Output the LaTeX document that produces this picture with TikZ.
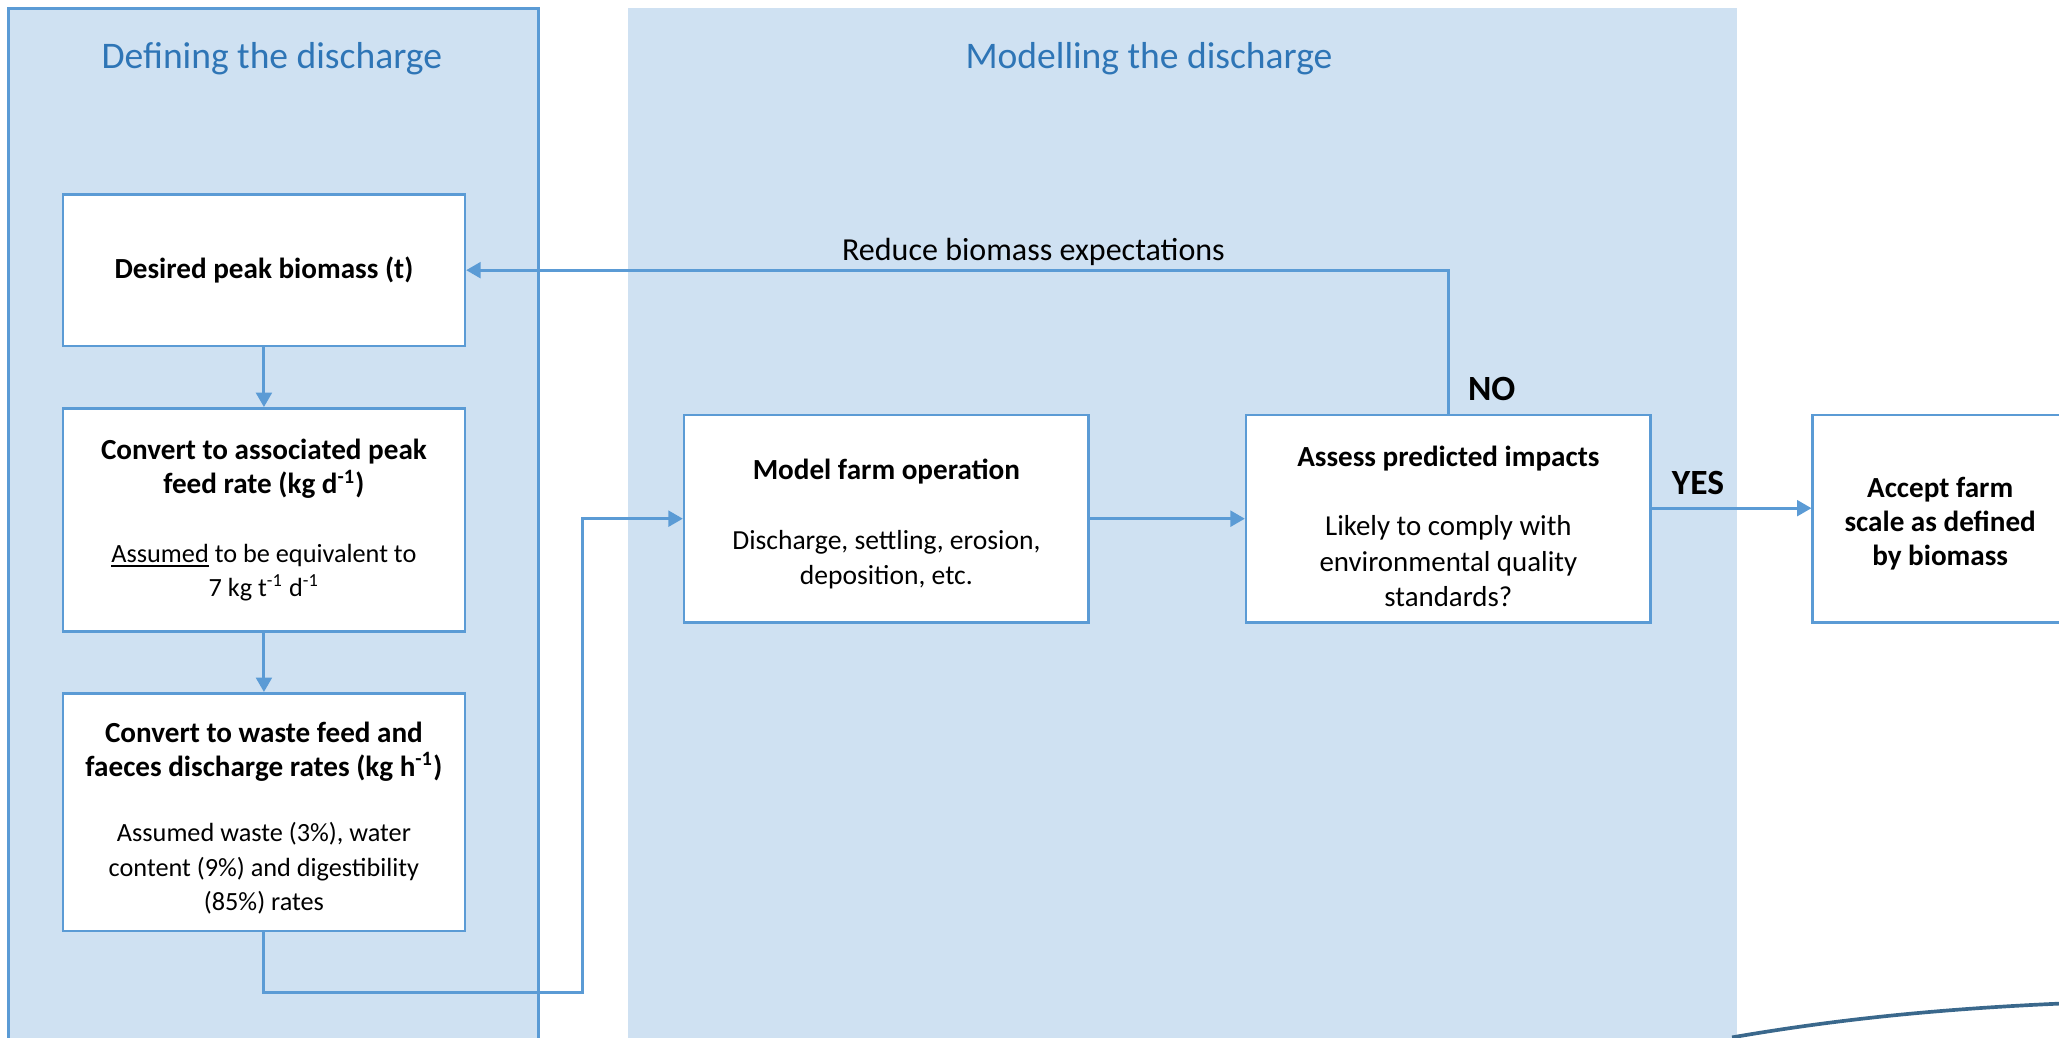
\documentclass[tikz,border=0pt]{standalone}
\usepackage{fontspec}
\setmainfont{Carlito}
\usetikzlibrary{arrows.meta}
\definecolor{panelblue}{RGB}{207,225,242}
\definecolor{lineblue}{RGB}{91,155,213}
\definecolor{titleblue}{RGB}{46,117,182}
\definecolor{swoosh}{RGB}{58,104,140}
\newcommand{\hd}[1]{{\fontsize{11.1}{13.2}\selectfont\bfseries #1}}
\begin{document}
\begin{tikzpicture}[x=0.5pt,y=-0.5pt]
            \tikzstyle{box}=[rectangle,draw=lineblue,fill=white,line width=1pt,inner sep=2pt,align=center,font=\fontsize{10}{13}\selectfont]
            \tikzstyle{panel title}=[text=titleblue,font=\fontsize{14.3}{17}\selectfont]
            \tikzstyle{flow}=[draw=lineblue,line width=1.1pt,-{Triangle[width=6pt,length=5.5pt]}]
            \tikzstyle{answer}=[font=\fontsize{13.5}{16}\selectfont\bfseries]

            \useasboundingbox (0,0) rectangle (1568,790);
            \clip (0,0) rectangle (1568,790);

            % panels
            \filldraw[fill=panelblue,draw=lineblue,line width=1pt] (6.4,6.3) rectangle (410,830);
            \fill[panelblue] (478,6) rectangle (1323,830);
            \node(deftitle)[panel title] at (207,45) {Defining the discharge};
            \node(modtitle)[panel title] at (875,45) {Modelling the discharge};

            % boxes
            \node(desired)[box,minimum width=153pt,minimum height=57.75pt] at (201,205.75)
            {\hd{Desired peak biomass (t)}};
            \node(feed)[box,minimum width=153pt,minimum height=85pt] at (201,396)
            {\hd{Convert to associated peak}\\
            \hd{feed rate (kg d\textsuperscript{-1})}\\[13pt]
            \underline{Assumed} to be equivalent to\\
            7 kg t\textsuperscript{-1} d\textsuperscript{-1}};
            \node(waste)[box,minimum width=153pt,minimum height=90.5pt] at (201,618.5)
            {\rule{0pt}{12pt}\hd{Convert to waste feed and}\\
            \hd{faeces discharge rates (kg h\textsuperscript{-1})}\\[12pt]
            Assumed waste (3\%), water\\
            content (9\%) and digestibility\\
            (85\%) rates};
            \node(model)[box,minimum width=154pt,minimum height=79pt,font=\fontsize{10.5}{13.3}\selectfont] at (675,395)
            {\rule{0pt}{12pt}\hd{Model farm operation}\\[13.5pt]
            Discharge, settling, erosion,\\
            deposition, etc.};
            \node(assess)[box,minimum width=154pt,minimum height=79pt,font=\fontsize{11}{13.5}\selectfont] at (1103,395)
            {\rule{0pt}{13.5pt}\hd{Assess predicted impacts}\\[13pt]
            Likely to comply with\\
            environmental quality\\
            standards?};
            \node(accept)[box,minimum width=97pt,minimum height=79pt] at (1477.5,395)
            {\rule{0pt}{11.5pt}\hd{Accept farm}\\
            \hd{scale as defined}\\
            \hd{by biomass}};

            % connectors
            \coordinate(bend) at (443.6,756);
            \draw[flow] (desired.south) -- (feed.north);
            \draw[flow] (feed.south) -- (waste.north);
            \draw[flow] (waste.south) |- (bend) |- (model.west);
            \draw[flow] (model.east) -- (assess.west);
            \draw[flow] (assess.north) |- (desired.east);
            \draw[flow] ([yshift=4pt]assess.east) -- ([yshift=4pt]accept.west);
            \node(reduce)[font=\fontsize{12.2}{14}\selectfont] at (787,192) {Reduce biomass expectations};
            \node(no)[answer] at (1136,296) {NO};
            \node(yes)[answer] at (1293,368) {YES};

            % swoosh
            \draw[swoosh,line width=1.4pt] (1319,790) .. controls (1400,776) and (1480,768) .. (1575,764);
\end{tikzpicture}
\end{document}
